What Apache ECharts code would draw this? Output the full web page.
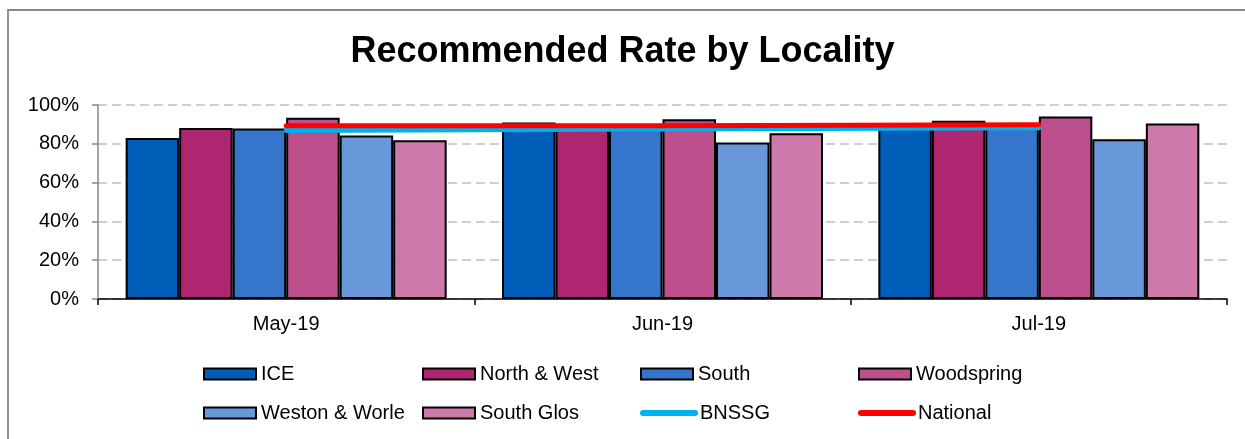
<!DOCTYPE html>
<html>
<head>
<meta charset="utf-8">
<title>Recommended Rate by Locality</title>
<script src="https://cdn.jsdelivr.net/npm/echarts@6/dist/echarts.min.js"></script>
<style>
  html, body { margin: 0; padding: 0; background: #ffffff; }
  #chart { width: 1245px; height: 439px; }
</style>
</head>
<body>
<div id="chart"></div>
<script>
// Months shown along the x axis
const months = ['May-19', 'Jun-19', 'Jul-19'];

// Recommended rate (%) per locality
const ice         = [83.0, 91.0, 88.5];
const northWest   = [88.1, 90.0, 91.9];
const south       = [87.9, 88.6, 89.0];
const woodspring  = [93.4, 92.6, 94.1];
const westonWorle = [84.3, 80.7, 82.3];
const southGlos   = [81.8, 85.4, 90.5];

// Reference lines
const bnssg    = [86.9, 87.6, 88.3];
const national = [89.3, 89.3, 89.8];

// Y axis ticks
const yTicks = [0, 20, 40, 60, 80, 100];

const FONT = '"Liberation Sans", Arial, sans-serif';

const barSeries = [
  { name: 'ICE',            data: ice,         color: '#005eb8' },
  { name: 'North & West',   data: northWest,   color: '#ae2570' },
  { name: 'South',          data: south,       color: '#3576cc' },
  { name: 'Woodspring',     data: woodspring,  color: '#bd4f8d' },
  { name: 'Weston & Worle', data: westonWorle, color: '#6898d8' },
  { name: 'South Glos',     data: southGlos,   color: '#cd7aaa' }
];
const lineSeries = [
  { name: 'BNSSG',    data: bnssg,    color: '#00b0f0' },
  { name: 'National', data: national, color: '#ff0000' }
];

const series = [];
barSeries.forEach(s => {
  series.push({
    name: s.name,
    type: 'bar',
    data: s.data,
    barGap: '0%',
    barCategoryGap: '14.7%',
    itemStyle: { color: s.color, borderColor: '#000000', borderWidth: 2 },
    emphasis: { disabled: true }
  });
});
lineSeries.forEach(s => {
  series.push({
    name: s.name,
    type: 'line',
    data: s.data,
    symbol: 'none',
    z: 5,
    lineStyle: { color: s.color, width: 5, cap: 'round' },
    itemStyle: { color: s.color },
    emphasis: { disabled: true }
  });
});

// Legend placed as a 4 x 2 table
const legendCols = [203, 422, 640, 858];
const legendRows = [364, 403];
const legendOrder = ['ICE', 'North & West', 'South', 'Woodspring',
                     'Weston & Worle', 'South Glos', 'BNSSG', 'National'];
const lineNames = lineSeries.map(s => s.name);
const legends = legendOrder.map((name, i) => {
  const isLine = lineNames.indexOf(name) >= 0;
  const lg = {
    data: [name],
    left: legendCols[i % 4],
    top: legendRows[Math.floor(i / 4)],
    padding: 0,
    itemWidth: 52,
    itemHeight: 11,
    selectedMode: false,
    textStyle: { fontFamily: FONT, fontSize: 20, color: '#000000' }
  };
  if (isLine) {
    // plain thick stroke, no marker dot
    lg.itemStyle = { opacity: 0 };
    lg.lineStyle = { width: 6, cap: 'round' };
  } else {
    lg.icon = 'rect';
    lg.itemStyle = { borderColor: '#000000', borderWidth: 2 };
  }
  return lg;
});

const chart = echarts.init(document.getElementById('chart'), null, { renderer: 'canvas' });
chart.setOption({
  animation: false,
  backgroundColor: '#ffffff',
  title: {
    text: 'Recommended Rate by Locality',
    left: 'center',
    top: 34,
    padding: 0,
    textStyle: { fontFamily: FONT, fontSize: 36, fontWeight: 'bold', color: '#000000' }
  },
  legend: legends,
  grid: { left: 98, right: 18, top: 105, bottom: 140, containLabel: false },
  xAxis: {
    type: 'category',
    data: months,
    boundaryGap: true,
    axisLine: { lineStyle: { color: '#000000', width: 1.5 } },
    axisTick: { show: true, length: 6, lineStyle: { color: '#000000', width: 1.5 } },
    axisLabel: { fontFamily: FONT, fontSize: 20, color: '#000000', margin: 15 }
  },
  yAxis: {
    type: 'value',
    min: yTicks[0],
    max: yTicks[yTicks.length - 1],
    interval: yTicks[1] - yTicks[0],
    axisLine: { show: true, lineStyle: { color: '#868686', width: 1.5 } },
    axisTick: { show: true, length: 6, lineStyle: { color: '#868686', width: 1.5 } },
    axisLabel: { fontFamily: FONT, fontSize: 20, color: '#000000', margin: 19, formatter: v => v + '%' },
    splitLine: { show: true, lineStyle: { color: '#c0c0c0', width: 1.5, type: [9, 5] } }
  },
  series: series,
  graphic: [{
    type: 'polyline',
    silent: true,
    shape: { points: [[8, 439], [8, 10], [1245, 10]] },
    style: { stroke: '#888888', lineWidth: 1.8, fill: null }
  }]
});
</script>
</body>
</html>
